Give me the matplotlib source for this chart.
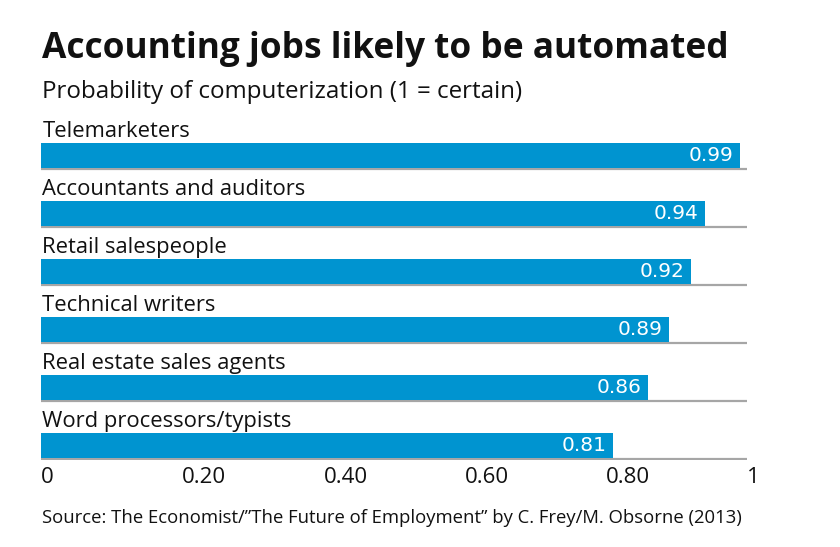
import matplotlib
matplotlib.use("Agg")
import matplotlib.pyplot as plt
import numpy as np

jobs = ["Telemarketers", "Accountants and auditors", "Retail salespeople",
        "Technical writers", "Real estate sales agents", "Word processors/typists"]
probability = [0.99, 0.94, 0.92, 0.89, 0.86, 0.81]
tick_values = [0, 0.2, 0.4, 0.6, 0.8, 1.0]
tick_labels = ["0", "0.20", "0.40", "0.60", "0.80", "1"]

TITLE = "Accounting jobs likely to be automated"
SUBTITLE = "Probability of computerization (1 = certain)"
SOURCE = "Source: The Economist/\u201dThe Future of Employment\u201d by C. Frey/M. Obsorne (2013)"

BAR_COLOR = "#0094d0"
LINE_COLOR = "#a6a6a6"
FONT = "Open Sans"
W, H = 840, 547
BAR_H = 25 / 58

fig = plt.figure(figsize=(W / 100, H / 100), dpi=100)
# axes placed in pixel terms: x 41..747, y 110..460
ax = fig.add_axes([41 / W, 1 - 460 / H, (747 - 41) / W, 350 / H])

ypos = -np.arange(len(jobs))
ax.barh(ypos, probability, height=BAR_H, color=BAR_COLOR, zorder=2)
ax.hlines(ypos - BAR_H / 2 - 0.02, 0, 1, color=LINE_COLOR, lw=1.6, zorder=1)

for y, name, val in zip(ypos, jobs, probability):
    ax.text(0.002, y + BAR_H / 2 + 6 / 58, name, ha="left", va="baseline",
            fontsize=15.8, family=FONT, color="#111111")
    ax.text(val - 0.009, y, f"{val:.2f}", ha="right", va="center",
            fontsize=14.5, family="DejaVu Sans", color="white", zorder=3)

ax.set_xlim(0, 1)
ax.set_ylim(-5.25, 0.784)
ax.set_xticks(tick_values)
ax.set_xticklabels(tick_labels, fontsize=16, family=FONT, color="#111111")
for lab in ax.get_xticklabels():
    lab.set_ha("left")
ax.tick_params(axis="x", length=0, pad=5)
ax.set_yticks([])
for s in ax.spines.values():
    s.set_visible(False)

fig.text(42 / W, 1 - 58 / H, TITLE, fontsize=25.4, fontweight="bold",
         family=FONT, color="#111111", va="baseline")
fig.text(42 / W, 1 - 98 / H, SUBTITLE, fontsize=17.4,
         family=FONT, color="#111111", va="baseline")
fig.text(42 / W, 1 - 523 / H, SOURCE, fontsize=13.35,
         family=FONT, color="#111111", va="baseline")

fig.savefig("out.png", dpi=100)
